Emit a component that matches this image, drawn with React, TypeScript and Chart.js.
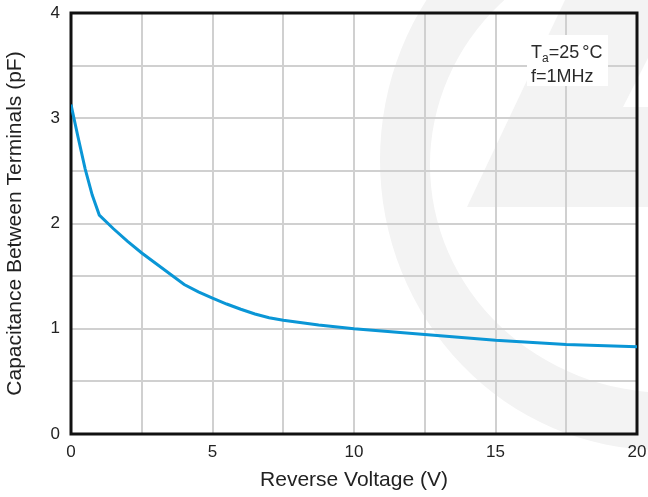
import React, { useEffect, useRef } from "react";
import { Chart, registerables } from "chart.js";

Chart.register(...registerables);

// Reverse voltage (V)
const voltage = [0, 0.25, 0.5, 0.75, 1, 1.5, 2, 2.5, 3, 3.5, 4, 4.5, 5, 5.5, 6, 6.5, 7, 7.5, 8.75, 10, 12.5, 15, 17.5, 20];
// Capacitance between terminals (pF)
const capacitance = [3.13, 2.82, 2.52, 2.27, 2.08, 1.95, 1.83, 1.72, 1.62, 1.52, 1.42, 1.35, 1.29, 1.235, 1.185, 1.14, 1.105, 1.08, 1.035, 1.0, 0.945, 0.89, 0.85, 0.83];

const xTickLabels = [0, 5, 10, 15, 20];
const yTickLabels = [0, 1, 2, 3, 4];

const xTitle = "Reverse Voltage (V)";
const yTitle = "Capacitance Between Terminals (pF)";
const noteLine1 = ["T", "a", "=25", "°C"];
const noteLine2 = "f=1MHz";

const FONT = "'Liberation Sans', Arial, Helvetica, sans-serif";

const decorPlugin = {
  id: "decor",
  beforeDraw(chart: any) {
    const ctx = chart.ctx;
    ctx.save();
    ctx.fillStyle = "#ffffff";
    ctx.fillRect(0, 0, chart.width, chart.height);
    // faint watermark
    ctx.fillStyle = "#f3f3f3";
    ctx.beginPath();
    ctx.ellipse(660, 160, 280, 290, 0, 0, Math.PI * 2);
    ctx.ellipse(670, 165, 240, 228, 0, 0, Math.PI * 2);
    ctx.fill("evenodd");
    ctx.beginPath();
    ctx.moveTo(467, 207);
    ctx.lineTo(565, 0);
    ctx.lineTo(648, 0);
    ctx.lineTo(648, 58);
    ctx.lineTo(623, 107);
    ctx.lineTo(648, 107);
    ctx.lineTo(648, 207);
    ctx.closePath();
    ctx.fill();
    ctx.restore();
  },
  beforeDatasetsDraw(chart: any) {
    const ctx = chart.ctx;
    const a = chart.chartArea;
    ctx.save();
    // note box
    ctx.fillStyle = "#ffffff";
    ctx.fillRect(527, 35, 81, 51);
    ctx.fillStyle = "#2a2a2a";
    ctx.textBaseline = "alphabetic";
    ctx.textAlign = "left";
    let x = 531;
    ctx.font = `18px ${FONT}`;
    ctx.fillText(noteLine1[0], x, 58);
    x += ctx.measureText(noteLine1[0]).width;
    ctx.font = `12px ${FONT}`;
    ctx.fillText(noteLine1[1], x, 62);
    x += ctx.measureText(noteLine1[1]).width;
    ctx.font = `18px ${FONT}`;
    ctx.fillText(noteLine1[2], x, 58);
    x += ctx.measureText(noteLine1[2]).width + 3;
    ctx.fillText(noteLine1[3], x, 58);
    ctx.fillText(noteLine2, 531, 82);
    // frame
    ctx.strokeStyle = "#111111";
    ctx.lineWidth = 3;
    ctx.strokeRect(a.left, a.top, a.right - a.left, a.bottom - a.top);
    ctx.restore();
  },
};

export default function App() {
  const ref = useRef<HTMLCanvasElement>(null);
  useEffect(() => {
    if (!ref.current) return;
    const chart = new Chart(ref.current, {
      type: "line",
      data: {
        datasets: [
          {
            data: voltage.map((v, i) => ({ x: v, y: capacitance[i] })),
            borderColor: "#0a96d6",
            borderWidth: 3,
            pointRadius: 0,
            tension: 0,
            fill: false,
          },
        ],
      },
      options: {
        animation: false,
        responsive: false,
        devicePixelRatio: 1,
        layout: { padding: { top: 13, right: 11, left: 0, bottom: 0 } },
        plugins: { legend: { display: false }, tooltip: { enabled: false } },
        scales: {
          x: {
            type: "linear",
            min: 0,
            max: 20,
            afterFit: (s: any) => {
              s.height = 63;
              s.paddingLeft = 0;
              s.paddingRight = 0;
            },
            grid: { color: "#d0d0d0", lineWidth: 2, drawTicks: false },
            border: { display: false },
            ticks: {
              stepSize: 2.5,
              autoSkip: false,
              maxRotation: 0,
              padding: 8,
              color: "#222222",
              font: { family: FONT, size: 17 },
              callback: (v: any) => (xTickLabels.includes(Number(v)) ? String(v) : ""),
            },
            title: {
              display: true,
              text: xTitle,
              color: "#222222",
              font: { family: FONT, size: 21 },
              padding: { top: 4, bottom: 4 },
            },
          },
          y: {
            type: "linear",
            min: 0,
            max: 4,
            afterFit: (s: any) => {
              s.width = 71;
              s.paddingTop = 0;
              s.paddingBottom = 0;
            },
            grid: { color: "#d0d0d0", lineWidth: 2, drawTicks: false },
            border: { display: false },
            ticks: {
              stepSize: 0.5,
              autoSkip: false,
              padding: 11,
              color: "#222222",
              font: { family: FONT, size: 17 },
              callback: (v: any) => (yTickLabels.includes(Number(v)) ? String(v) : ""),
            },
            title: {
              display: true,
              text: yTitle,
              color: "#222222",
              font: { family: FONT, size: 21 },
              padding: { top: 3, bottom: 4 },
            },
          },
        },
      },
      plugins: [decorPlugin],
    } as any);
    return () => chart.destroy();
  }, []);
  return (
    <div style={{ position: "absolute", left: 0, top: 0, width: 648, height: 497 }}>
      <canvas ref={ref} width={648} height={497} style={{ display: "block" }} />
    </div>
  );
}
